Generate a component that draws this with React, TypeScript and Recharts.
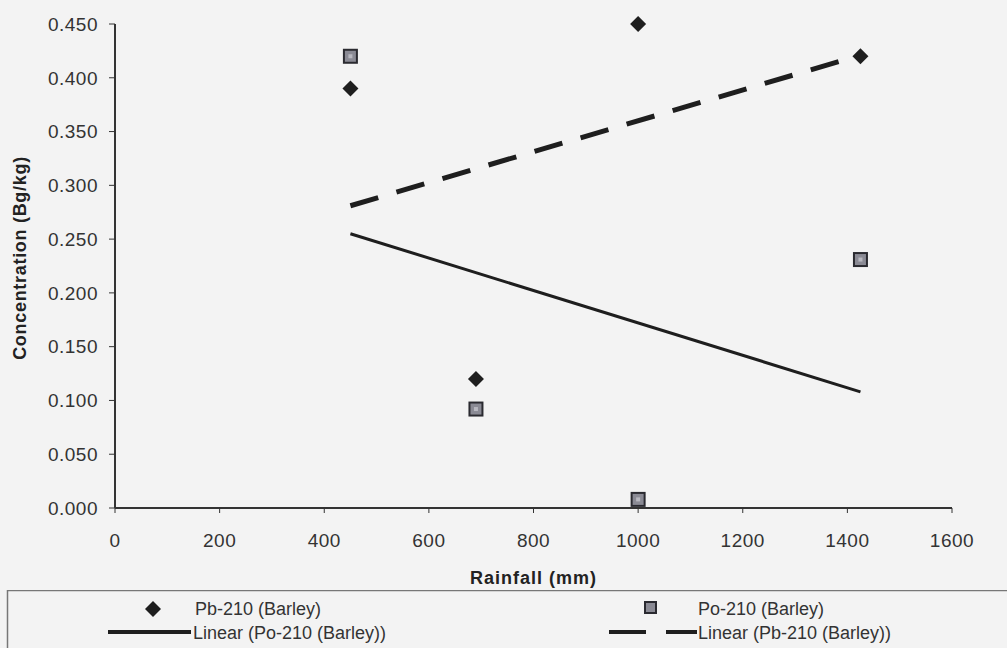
import React from 'react';
import { ScatterChart, Scatter, XAxis, YAxis } from 'recharts';

const rainfall = [450, 690, 1000, 1425];
const pb210 = [0.39, 0.12, 0.45, 0.42];
const po210 = [0.42, 0.092, 0.008, 0.231];
const trendX = [450, 1425];
const poTrendY = [0.255, 0.108];
const pbTrendY = [0.281, 0.421];
const xTicks = [0, 200, 400, 600, 800, 1000, 1200, 1400, 1600];
const yTicks = [0, 0.05, 0.1, 0.15, 0.2, 0.25, 0.3, 0.35, 0.4, 0.45];

const pbData = rainfall.map((x, i) => ({ x, y: pb210[i] }));
const poData = rainfall.map((x, i) => ({ x, y: po210[i] }));
const poTrend = trendX.map((x, i) => ({ x, y: poTrendY[i] }));
const pbTrend = trendX.map((x, i) => ({ x, y: pbTrendY[i] }));

const FONT = '"Liberation Sans", Arial, sans-serif';
const AX = '#333';

const Diamond = (p: any) => {
  const { cx, cy } = p;
  const r = 8;
  return <path d={`M${cx},${cy - r}L${cx + r},${cy}L${cx},${cy + r}L${cx - r},${cy}Z`} fill="#1e1e1e" />;
};
const Square = (p: any) => {
  const { cx, cy } = p;
  return (
    <g>
      <rect x={cx - 6.5} y={cy - 6.5} width={13} height={13} fill="#8a8a94" stroke="#2a2a30" strokeWidth={2} />
      <rect x={cx - 2} y={cy - 2} width={4} height={4} fill="#b8b8c0" />
    </g>
  );
};
const None = () => null;

const YLabel = () => (
  <text x={26} y={258} transform="rotate(-90 26 258)" textAnchor="middle" fontFamily={FONT} fontWeight="bold" fontSize={18} letterSpacing={0.7} fill="#222">
    Concentration (Bg/kg)
  </text>
);

const tickStyle = { fill: '#333', fontSize: 19, fontFamily: FONT, letterSpacing: 0.5 };
const legendText = { fontFamily: FONT, fontSize: 18, fill: '#333' };

export default function App() {
  return (
    <div style={{ position: 'absolute', left: 0, top: 0, width: 1007, height: 648, background: '#f3f3f3', overflow: 'hidden' }}>
      <ScatterChart width={1007} height={590} margin={{ top: 24, right: 55, left: 0, bottom: 0 }}>
        <XAxis
          type="number"
          dataKey="x"
          domain={[0, 1600]}
          ticks={xTicks}
          height={82}
          tickSize={5}
          tickMargin={21}
          stroke={AX}
          axisLine={{ stroke: AX, strokeWidth: 2 }}
          tick={tickStyle}
          label={{ value: 'Rainfall (mm)', position: 'insideBottom', offset: 6, fill: '#222', fontSize: 18, fontWeight: 'bold', fontFamily: FONT, letterSpacing: 1 }}
        />
        <YAxis
          type="number"
          dataKey="y"
          domain={[0, 0.45]}
          ticks={yTicks}
          width={115}
          tickSize={6}
          tickMargin={11}
          stroke={AX}
          axisLine={{ stroke: AX, strokeWidth: 2 }}
          tickFormatter={(v: number) => v.toFixed(3)}
          tick={tickStyle}
          label={{ content: () => <YLabel /> }}
        />
        <XAxis xAxisId="top" orientation="top" type="number" domain={[0, 1600]} height={0} tick={false} tickLine={false} axisLine={{ stroke: AX, strokeWidth: 2 }} />
        <YAxis yAxisId="right" orientation="right" type="number" domain={[0, 0.45]} width={0} tick={false} tickLine={false} axisLine={{ stroke: AX, strokeWidth: 2 }} />
        <Scatter name="Linear (Po-210 (Barley))" data={poTrend} shape={None} line={{ stroke: '#1e1e1e', strokeWidth: 3 }} isAnimationActive={false} />
        <Scatter name="Linear (Pb-210 (Barley))" data={pbTrend} shape={None} line={{ stroke: '#1e1e1e', strokeWidth: 5, strokeDasharray: '29 19' }} isAnimationActive={false} />
        <Scatter name="Pb-210 (Barley)" data={pbData} shape={Diamond} isAnimationActive={false} />
        <Scatter name="Po-210 (Barley)" data={poData} shape={Square} isAnimationActive={false} />
      </ScatterChart>
      <svg width={1007} height={58} style={{ position: 'absolute', left: 0, top: 590 }}>
        <rect x={7.5} y={0.5} width={1010} height={80} fill="none" stroke="#777" strokeWidth={1.5} />
        <path d="M153,11L161,19L153,27L145,19Z" fill="#1e1e1e" />
        <text x={195} y={25} {...legendText}>Pb-210 (Barley)</text>
        <rect x={645} y={12} width={11} height={11} fill="#8a8a94" stroke="#2a2a30" strokeWidth={2} />
        <text x={698} y={25} {...legendText}>Po-210 (Barley)</text>
        <line x1={108} y1={42} x2={191} y2={42} stroke="#1e1e1e" strokeWidth={4} />
        <text x={193} y={49} {...legendText}>Linear (Po-210 (Barley))</text>
        <line x1={609} y1={42} x2={697} y2={42} stroke="#1e1e1e" strokeWidth={4} strokeDasharray="37 20" />
        <text x={698} y={49} {...legendText}>Linear (Pb-210 (Barley))</text>
      </svg>
    </div>
  );
}
